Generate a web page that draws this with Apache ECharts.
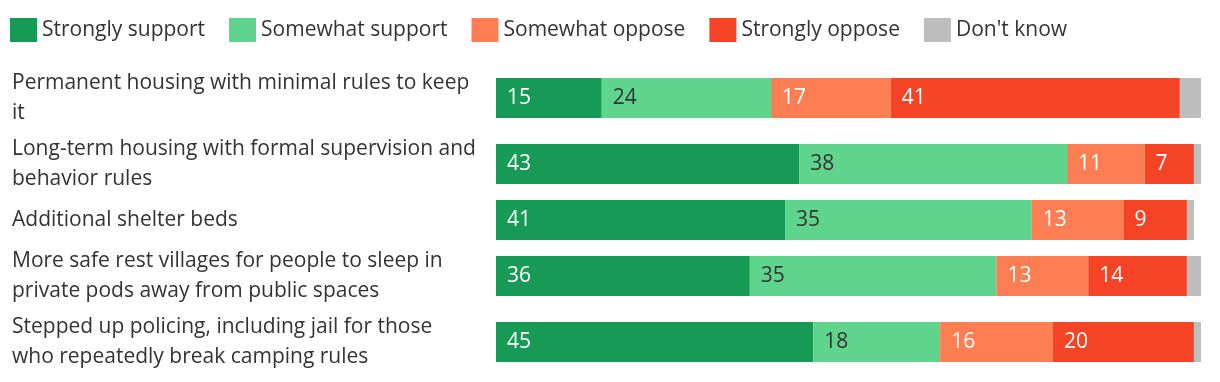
<!DOCTYPE html>
<html>
<head>
<meta charset="utf-8">
<script src="https://cdn.jsdelivr.net/npm/echarts@6/dist/echarts.min.js"></script>
<style>
html,body{margin:0;padding:0;background:#fff;}
#chart{width:1220px;height:382px;}
</style>
</head>
<body>
<div id="chart"></div>
<script>
const categories = [
  "Permanent housing with minimal rules to keep\nit",
  "Long-term housing with formal supervision and\nbehavior rules",
  "Additional shelter beds",
  "More safe rest villages for people to sleep in\nprivate pods away from public spaces",
  "Stepped up policing, including jail for those\nwho repeatedly break camping rules"
];
const seriesNames = ["Strongly support", "Somewhat support", "Somewhat oppose", "Strongly oppose", "Don't know"];
const stronglySupport = [15, 43, 41, 36, 45];
const somewhatSupport = [24, 38, 35, 35, 18];
const somewhatOppose = [17, 11, 13, 13, 16];
const stronglyOppose = [41, 7, 9, 14, 20];
const dontKnow = [3, 2, 1, 3, 1];

const values = [stronglySupport, somewhatSupport, somewhatOppose, stronglyOppose, dontKnow];
const colors = ["#169a56", "#5fd48d", "#fe7e54", "#f44425", "#bdbdbd"];
const labelColors = ["#ffffff", "#333333", "#ffffff", "#ffffff", null];
const FONT = 'Open Sans';

const rowHeights = [66, 66, 46, 66, 66];
const startTop = 65;

const grids = [], xAxes = [], yAxes = [], series = [];
let rowTop = startTop;
categories.forEach((cat, i) => {
  grids.push({ left: 496, width: 705, top: rowTop, height: rowHeights[i], containLabel: false });
  rowTop += rowHeights[i];
  xAxes.push({ gridIndex: i, type: 'value', min: 0, max: 100, show: false });
  yAxes.push({
    gridIndex: i, type: 'category', data: [cat],
    axisLine: { show: false }, axisTick: { show: false }, splitLine: { show: false },
    axisLabel: {
      margin: 484, align: 'left', fontSize: 21, lineHeight: 30,
      color: '#333', fontFamily: FONT
    }
  });
  seriesNames.forEach((name, k) => {
    series.push({
      name: name, type: 'bar', stack: 'row' + i,
      xAxisIndex: i, yAxisIndex: i, barWidth: 40,
      itemStyle: { color: colors[k] },
      emphasis: { disabled: true },
      label: {
        show: labelColors[k] !== null,
        position: 'insideLeft', distance: 11,
        color: labelColors[k] || '#333', fontSize: 21, fontFamily: FONT
      },
      data: [values[k][i]]
    });
  });
});

const chart = echarts.init(document.getElementById('chart'));
chart.setOption({
  animation: false,
  legend: {
    left: 10, top: 18, padding: 0, itemWidth: 27, itemHeight: 24, itemGap: 24,
    icon: 'rect', data: seriesNames,
    textStyle: { fontSize: 21, color: '#333', fontFamily: FONT }
  },
  grid: grids, xAxis: xAxes, yAxis: yAxes, series: series
});
</script>
</body>
</html>
